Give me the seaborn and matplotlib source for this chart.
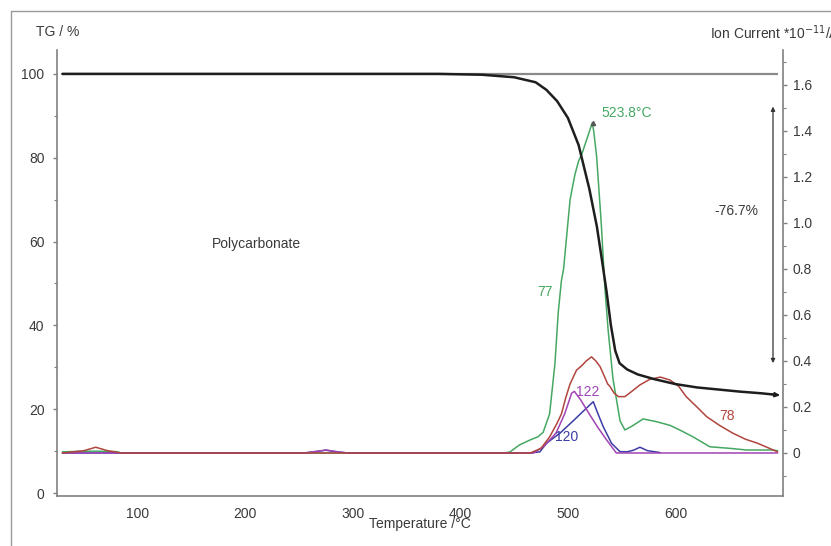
import matplotlib
matplotlib.use("Agg")
import matplotlib.pyplot as plt
from matplotlib.ticker import MultipleLocator
from matplotlib.lines import Line2D
import seaborn as sns
import pandas as pd

# ---------------- data ----------------
tg_temp = [30, 380, 420, 450, 470, 480, 490, 500, 510, 520, 527, 532, 536, 540, 544, 548,
           555, 565, 580, 600, 620, 640, 660, 680, 695]
tg_mass = [100, 100, 99.8, 99.2, 98.0, 96.2, 93.5, 89.5, 83, 72.5, 63.5, 55, 48, 40, 34, 31,
           29.5, 28.3, 27.2, 26.0, 25.2, 24.7, 24.2, 23.8, 23.4]

m77_temp = [30, 45, 60, 80, 85, 440, 446, 455, 465, 472, 477, 483, 488, 491, 494, 496, 502,
            506.5, 510, 513, 518, 522.6, 524, 526.7, 531, 534.5, 537.5, 542, 548.5, 553, 559,
            570, 582.5, 595, 604, 616, 632, 651, 666, 690, 695]
m77_ion = [0.005, 0.007, 0.008, 0.006, 0.0, 0.0, 0.004, 0.035, 0.057, 0.07, 0.09, 0.17, 0.39,
           0.61, 0.75, 0.80, 1.10, 1.21, 1.27, 1.30, 1.37, 1.435, 1.40, 1.29, 1.0, 0.71, 0.53,
           0.32, 0.14, 0.10, 0.115, 0.148, 0.136, 0.12, 0.10, 0.071, 0.027, 0.02, 0.013, 0.013,
           0.01]

m78_temp = [30, 50, 61, 72, 85, 465, 475, 483, 490, 494, 498, 502, 508, 513, 517, 522, 526,
            530, 537, 539, 543, 547, 553, 560, 567, 576, 586, 595, 603, 610, 620, 629, 641,
            653, 665, 676, 685, 695]
m78_ion = [0.0, 0.01, 0.025, 0.01, 0.0, 0.0, 0.02, 0.07, 0.13, 0.17, 0.24, 0.30, 0.36, 0.38,
           0.40, 0.418, 0.40, 0.375, 0.30, 0.29, 0.26, 0.245, 0.245, 0.27, 0.296, 0.32, 0.33,
           0.317, 0.29, 0.245, 0.20, 0.158, 0.12, 0.087, 0.06, 0.043, 0.025, 0.005]

m122_temp = [30, 255, 265, 275, 285, 295, 468, 478, 489, 497, 503.5, 506, 512, 520.5, 528,
             536, 545, 695]
m122_ion = [0.0, 0.0, 0.006, 0.013, 0.006, 0.0, 0.0, 0.03, 0.087, 0.17, 0.26, 0.268, 0.23,
            0.165, 0.11, 0.057, 0.0, 0.0]

m120_temp = [30, 255, 265, 275, 285, 295, 465, 474, 480, 492.6, 505, 515, 523.6, 528, 532.8,
             540.6, 548.4, 555, 561, 567, 574, 585.6]
m120_ion = [0.0, 0.0, 0.006, 0.012, 0.005, 0.0, 0.0, 0.005, 0.042, 0.086, 0.14, 0.185, 0.223,
            0.17, 0.115, 0.042, 0.006, 0.005, 0.012, 0.025, 0.01, 0.002]

x_ticks = [100, 200, 300, 400, 500, 600]
tg_ticks = [0, 20, 40, 60, 80, 100]
ion_ticks = [0, 0.2, 0.4, 0.6, 0.8, 1.0, 1.2, 1.4, 1.6]

peak_temp, peak_ion = 523.8, 1.435
mass_loss_label = "-76.7%"
tg_start, tg_end = 100.0, 23.3

# ---------------- style ----------------
sns.set_style("white")
plt.rcParams["font.family"] = ["Liberation Sans", "DejaVu Sans"]
plt.rcParams["font.size"] = 10

GREEN = "#45a862"
RED = "#b0453e"
PURPLE = "#a044b4"
BLUE = "#3c3ca6"
TXT = "#3a3a3a"
SPINE = "#808080"

fig = plt.figure(figsize=(8.31, 5.46), dpi=100)
ax = fig.add_axes([57 / 831, 1 - 496 / 546, (783 - 57) / 831, (496 - 50) / 546])
ax2 = ax.twinx()

# TG curve with 100 % reference
ax.hlines(100, tg_temp[0], tg_temp[-1], color="#8a8a8a", lw=1.6, zorder=1)
sns.lineplot(x=tg_temp, y=tg_mass, ax=ax, color="#1e1e1e", lw=1.8, estimator=None,
             sort=False, zorder=3)

# ion current curves
series = [(m77_temp, m77_ion, GREEN), (m120_temp, m120_ion, BLUE),
          (m122_temp, m122_ion, PURPLE), (m78_temp, m78_ion, RED)]
for t, v, c in series:
    sns.lineplot(x=t, y=v, ax=ax2, color=c, lw=1.1, estimator=None, sort=False)

# put TG axis on top of ion axis
ax.set_zorder(ax2.get_zorder() + 1)
ax.patch.set_visible(False)

ax.set_xlim(25, 700)
ax.set_ylim(-0.7, 105.7)
ax2.set_ylim(-0.187, 1.752)

ax.set_xticks(x_ticks)
ax.xaxis.set_minor_locator(MultipleLocator(20))
ax.set_yticks(tg_ticks)
ax.yaxis.set_minor_locator(MultipleLocator(10))
ax2.set_yticks(ion_ticks)
ax2.set_yticklabels(["0" if v == 0 else f"{v:.1f}" for v in ion_ticks])
ax2.yaxis.set_minor_locator(MultipleLocator(0.1))

for a in (ax, ax2):
    for s in a.spines.values():
        s.set_color(SPINE)
        s.set_linewidth(1.2)
    a.spines["top"].set_visible(False)
ax.spines["right"].set_visible(False)
ax2.spines["left"].set_visible(False)
ax2.spines["bottom"].set_visible(False)

ax.tick_params(axis="both", which="both", direction="out", color=SPINE, labelcolor=TXT,
               labelsize=10)
ax.tick_params(axis="both", which="major", length=3, width=1)
ax.tick_params(axis="both", which="minor", length=2, width=0.8)
ax.tick_params(axis="x", pad=5)
ax.tick_params(axis="y", pad=6)
ax2.tick_params(axis="y", which="both", direction="out", color=SPINE, labelcolor=TXT,
                labelsize=10, pad=4)
ax2.tick_params(axis="y", which="major", length=3, width=1)
ax2.tick_params(axis="y", which="minor", length=2, width=0.8)

ax.set_xlabel("Temperature /°C", color=TXT, fontsize=10, labelpad=-3)
ax.set_ylabel("")
ax2.set_ylabel("")

# axis titles
fig.text(58 / 831, 1 - 32 / 546, "TG / %", ha="center", va="center", color=TXT, fontsize=10)
fig.text(710 / 831, 1 - 33 / 546, "Ion Current *10$^{-11}$/A", ha="left", va="center",
         color=TXT, fontsize=10)

# annotations
ax.text(210, 59.4, "Polycarbonate", ha="center", va="center", color=TXT, fontsize=10)
ax.text(657, 67.3, mass_loss_label, ha="center", va="center", color=TXT, fontsize=10)
ax.annotate("", xy=(690.7, 92.2), xytext=(690.7, 31.0),
            arrowprops=dict(arrowstyle="<|-|>", color="#333333", lw=0.9,
                            mutation_scale=6, shrinkA=0, shrinkB=0))
ax.annotate("", xy=(697, tg_end), xytext=(688, tg_end + 0.3),
            arrowprops=dict(arrowstyle="-|>", color="#1e1e1e", lw=1.2,
                            mutation_scale=7, shrinkA=0, shrinkB=0))

ax2.plot([peak_temp], [peak_ion], marker="^", ms=3, color="#555555", zorder=5)
ax2.text(531.6, 1.478, f"{peak_temp}°C", ha="left", va="center", color=GREEN, fontsize=10)
ax2.text(478.6, 0.70, "77", ha="center", va="center", color=GREEN, fontsize=10)
ax2.text(648, 0.16, "78", ha="center", va="center", color=RED, fontsize=10)
ax2.text(518.6, 0.265, "122", ha="center", va="center", color=PURPLE, fontsize=10)
ax2.text(499, 0.07, "120", ha="center", va="center", color=BLUE, fontsize=10)

# outer frame lines (top and left border of the original picture)
fig.add_artist(Line2D([11 / 831, 11 / 831], [0, 1 - 11 / 546], color="#9a9a9a", lw=1.0,
                      transform=fig.transFigure))
fig.add_artist(Line2D([11 / 831, 1], [1 - 11 / 546, 1 - 11 / 546], color="#9a9a9a", lw=1.0,
                      transform=fig.transFigure))

fig.savefig("out.png", dpi=100)
